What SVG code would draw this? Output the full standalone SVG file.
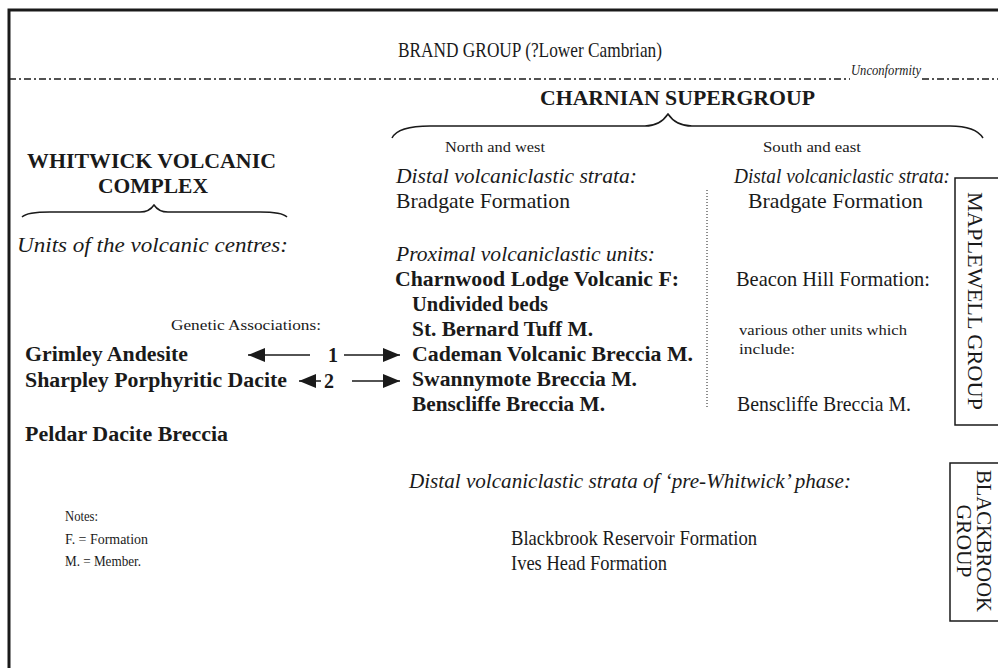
<svg xmlns="http://www.w3.org/2000/svg" width="998" height="668" viewBox="0 0 998 668" font-family="'Liberation Serif', 'Times New Roman', Times, serif">
<style>
text{font-family:'Liberation Serif','Times New Roman',Times,serif;fill:#1a1a1a}
.r{font-size:21px}
.i{font-size:21px;font-style:italic}
.b{font-size:20px;font-weight:bold}
.s{font-size:15px}
.n{font-size:14px}
.ln{stroke:#1a1a1a;fill:none}
</style>
<defs>
<marker id="ah" markerUnits="userSpaceOnUse" markerWidth="18" markerHeight="14" refX="17" refY="7" orient="auto">
<path d="M0,0 L17,7 L0,14 Z" fill="#1a1a1a"/>
</marker>
</defs>
<rect width="998" height="668" fill="#fff"/>
<g id="frame">
<path class="ln" d="M9,668 V10 H998" stroke-width="3"/>
<path class="ln" d="M9,79 H850 M922,79 H998" stroke-width="1.4" stroke-dasharray="7,3,2,3"/>
</g>
<g id="brand"><text class="r" x="398" y="57" textLength="264" lengthAdjust="spacingAndGlyphs">BRAND GROUP (?Lower Cambrian)</text></g>
<g id="unconformity"><text class="n" x="851" y="75" font-style="italic" textLength="70" lengthAdjust="spacingAndGlyphs">Unconformity</text></g>
<g id="charnian">
<text class="b" x="540" y="105" textLength="275" lengthAdjust="spacingAndGlyphs">CHARNIAN SUPERGROUP</text>
<path class="ln" stroke-width="1.5" d="M392,138 C396,130 410,126 430,126 H645 C658,126 664,120 668,114 C672,120 678,126 692,126 H950 C968,126 978,130 983,138"/>
<text class="s" x="445" y="152" textLength="100" lengthAdjust="spacingAndGlyphs">North and west</text>
<text class="s" x="763" y="152" textLength="98" lengthAdjust="spacingAndGlyphs">South and east</text>
</g>
<g id="whitwick">
<text class="b" x="27" y="168" textLength="249" lengthAdjust="spacingAndGlyphs">WHITWICK VOLCANIC</text>
<text class="b" x="98" y="193" textLength="110" lengthAdjust="spacingAndGlyphs">COMPLEX</text>
<path class="ln" stroke-width="1.5" d="M22,217 C26,213 36,212 50,212 H140 C148,212 152,208 154,205 C156,208 160,212 168,212 H260 C274,212 283,213 287,217"/>
<text class="i" x="17" y="252" textLength="271" lengthAdjust="spacingAndGlyphs">Units of the volcanic centres:</text>
</g>
<g id="north-west">
<text class="i" x="396" y="183" textLength="241" lengthAdjust="spacingAndGlyphs">Distal volcaniclastic strata:</text>
<text class="r" x="396" y="208" textLength="174" lengthAdjust="spacingAndGlyphs">Bradgate Formation</text>
<text class="i" x="396" y="261" textLength="259" lengthAdjust="spacingAndGlyphs">Proximal volcaniclastic units:</text>
<text class="b" x="395" y="286" textLength="284" lengthAdjust="spacingAndGlyphs">Charnwood Lodge Volcanic F:</text>
<text class="b" x="412" y="311" textLength="136" lengthAdjust="spacingAndGlyphs">Undivided beds</text>
<text class="b" x="412" y="336" textLength="181" lengthAdjust="spacingAndGlyphs">St. Bernard Tuff M.</text>
<text class="b" x="412" y="361" textLength="281" lengthAdjust="spacingAndGlyphs">Cademan Volcanic Breccia M.</text>
<text class="b" x="412" y="386" textLength="225" lengthAdjust="spacingAndGlyphs">Swannymote Breccia M.</text>
<text class="b" x="412" y="411" textLength="193" lengthAdjust="spacingAndGlyphs">Benscliffe Breccia M.</text>
</g>
<g id="south-east">
<path class="ln" stroke-width="1" stroke-dasharray="1,2" d="M707,190 V408"/>
<text class="i" x="734" y="183" textLength="216" lengthAdjust="spacingAndGlyphs">Distal volcaniclastic strata:</text>
<text class="r" x="748" y="208" textLength="175" lengthAdjust="spacingAndGlyphs">Bradgate Formation</text>
<text class="r" x="736" y="286" textLength="194" lengthAdjust="spacingAndGlyphs">Beacon Hill Formation:</text>
<text class="s" x="739" y="335" textLength="168" lengthAdjust="spacingAndGlyphs">various other units which</text>
<text class="s" x="739" y="354" textLength="56" lengthAdjust="spacingAndGlyphs">include:</text>
<text class="r" x="737" y="411" textLength="174" lengthAdjust="spacingAndGlyphs">Benscliffe Breccia M.</text>
</g>
<g id="volcanic-units">
<text class="s" x="171" y="330" textLength="150" lengthAdjust="spacingAndGlyphs">Genetic Associations:</text>
<text class="b" x="25" y="361" textLength="163" lengthAdjust="spacingAndGlyphs">Grimley Andesite</text>
<text class="b" x="25" y="387" textLength="262" lengthAdjust="spacingAndGlyphs">Sharpley Porphyritic Dacite</text>
<text class="b" x="25" y="441" textLength="203" lengthAdjust="spacingAndGlyphs">Peldar Dacite Breccia</text>
</g>
<g id="connectors">
<path class="ln" stroke-width="1.5" d="M310,355 H248" marker-end="url(#ah)"/>
<path class="ln" stroke-width="1.5" d="M344,355 H400" marker-end="url(#ah)"/>
<path class="ln" stroke-width="1.5" d="M321,381 H299" marker-end="url(#ah)"/>
<path class="ln" stroke-width="1.5" d="M352,381 H400" marker-end="url(#ah)"/>
<text class="b" x="328" y="362">1</text>
<text class="b" x="324" y="388">2</text>
</g>
<g id="notes">
<text class="n" x="65" y="521" textLength="33" lengthAdjust="spacingAndGlyphs">Notes:</text>
<text class="n" x="65" y="544" textLength="83" lengthAdjust="spacingAndGlyphs">F. = Formation</text>
<text class="n" x="65" y="566" textLength="76" lengthAdjust="spacingAndGlyphs">M. = Member.</text>
</g>
<g id="pre-whitwick">
<text class="i" x="409" y="488" textLength="442" lengthAdjust="spacingAndGlyphs">Distal volcaniclastic strata of ‘pre-Whitwick’ phase:</text>
<text class="r" x="511" y="545" textLength="246" lengthAdjust="spacingAndGlyphs">Blackbrook Reservoir Formation</text>
<text class="r" x="511" y="570" textLength="156" lengthAdjust="spacingAndGlyphs">Ives Head Formation</text>
</g>
<g id="maplewell">
<path class="ln" stroke-width="1.5" d="M998,178 H955 V425 H998"/>
<text class="r" transform="translate(968,301) rotate(90)" x="0" y="0" text-anchor="middle" font-size="20" textLength="218" lengthAdjust="spacingAndGlyphs">MAPLEWELL GROUP</text>
</g>
<g id="blackbrook">
<path class="ln" stroke-width="1.5" d="M998,463 H950 V621 H998"/>
<text class="r" transform="translate(977,541) rotate(90)" x="0" y="0" text-anchor="middle" font-size="19" textLength="142" lengthAdjust="spacingAndGlyphs">BLACKBROOK</text>
<text class="r" transform="translate(957,541) rotate(90)" x="0" y="0" text-anchor="middle" font-size="19" textLength="73" lengthAdjust="spacingAndGlyphs">GROUP</text>
</g>
</svg>
